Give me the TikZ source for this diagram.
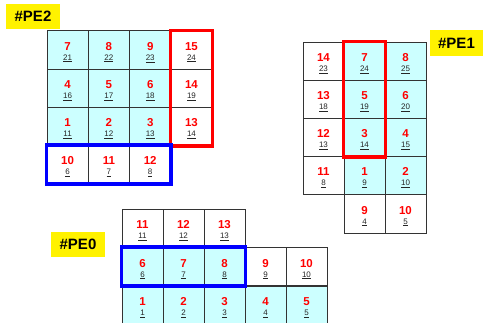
\documentclass[tikz,border=0pt]{standalone}
\usepackage{fontspec}
\setmainfont{Liberation Sans}
\definecolor{cellcyan}{HTML}{CCFFFF}
\definecolor{gridline}{HTML}{333333}
\definecolor{numred}{HTML}{FF0000}
\tikzset{
  cellbox/.style={draw=gridline, line width=0.8pt, rectangle, minimum width=41.2pt, minimum height=38.2pt, inner sep=0pt},
  cy/.style={cellbox, fill=cellcyan},
  wh/.style={cellbox, fill=white},
  pelabel/.style={fill=yellow, rectangle, inner sep=0pt, minimum width=54pt, minimum height=25pt, font=\fontsize{15}{15}\selectfont\bfseries},
  redframe/.style={draw=red, line width=3.6pt},
  blueframe/.style={draw=blue, line width=3.6pt},
}
\newcommand\mkcell[6]{\node[#4] (#1) at (#2,#3) {\raisebox{-10.3pt}[0pt][0pt]{\vbox{\baselineskip=10pt\lineskiplimit=-20pt\halign{\hfil##\hfil\cr{\fontsize{11.5}{11}\selectfont\bfseries\color{numred}#5}\cr{\fontsize{8}{8}\selectfont\color{black!85}\underline{#6}}\cr}}}};}
\begin{document}
\begin{tikzpicture}[x=1pt,y=-1pt]
\useasboundingbox (0,0) rectangle (483,323);
% ---------- PE2 ----------
\node[pelabel] (lab2) at (33,16.5) {\#PE2};
\mkcell{a1}{67.6}{50}{cy}{7}{21}
\mkcell{a2}{108.9}{50}{cy}{8}{22}
\mkcell{a3}{150.2}{50}{cy}{9}{23}
\mkcell{a4}{191.5}{50}{wh}{15}{24}
\mkcell{a5}{67.6}{88.2}{cy}{4}{16}
\mkcell{a6}{108.9}{88.2}{cy}{5}{17}
\mkcell{a7}{150.2}{88.2}{cy}{6}{18}
\mkcell{a8}{191.5}{88.2}{wh}{14}{19}
\mkcell{a9}{67.6}{126.4}{cy}{1}{11}
\mkcell{a10}{108.9}{126.4}{cy}{2}{12}
\mkcell{a11}{150.2}{126.4}{cy}{3}{13}
\mkcell{a12}{191.5}{126.4}{wh}{13}{14}
\mkcell{a13}{67.6}{164.6}{wh}{10}{6}
\mkcell{a14}{108.9}{164.6}{wh}{11}{7}
\mkcell{a15}{150.2}{164.6}{wh}{12}{8}
\draw[redframe] (a4.north west) rectangle (a12.south east);
\draw[blueframe] (a13.north west) rectangle (a15.south east);
% ---------- PE1 ----------
\node[pelabel, minimum width=53pt, minimum height=26pt] (lab1) at (456.5,43) {\#PE1};
\mkcell{b1}{323.5}{61.1}{wh}{14}{23}
\mkcell{b2}{364.5}{61.1}{cy}{7}{24}
\mkcell{b3}{405.5}{61.1}{cy}{8}{25}
\mkcell{b4}{323.5}{99.3}{wh}{13}{18}
\mkcell{b5}{364.5}{99.3}{cy}{5}{19}
\mkcell{b6}{405.5}{99.3}{cy}{6}{20}
\mkcell{b7}{323.5}{137.5}{wh}{12}{13}
\mkcell{b8}{364.5}{137.5}{cy}{3}{14}
\mkcell{b9}{405.5}{137.5}{cy}{4}{15}
\mkcell{b10}{323.5}{175.7}{wh}{11}{8}
\mkcell{b11}{364.5}{175.7}{cy}{1}{9}
\mkcell{b12}{405.5}{175.7}{cy}{2}{10}
\mkcell{b13}{364.5}{213.9}{wh}{9}{4}
\mkcell{b14}{405.5}{213.9}{wh}{10}{5}
\draw[redframe] (b2.north west) rectangle (b8.south east);
% ---------- PE0 ----------
\node[pelabel] (lab0) at (78,244.5) {\#PE0};
\mkcell{c1}{142.5}{228.25}{wh}{11}{11}
\mkcell{c2}{183.5}{228.25}{wh}{12}{12}
\mkcell{c3}{224.5}{228.25}{wh}{13}{13}
\mkcell{c4}{142.5}{266.75}{cy}{6}{6}
\mkcell{c5}{183.5}{266.75}{cy}{7}{7}
\mkcell{c6}{224.5}{266.75}{cy}{8}{8}
\mkcell{c7}{265.5}{266.75}{wh}{9}{9}
\mkcell{c8}{306.5}{266.75}{wh}{10}{10}
\mkcell{c9}{142.5}{305.25}{cy}{1}{1}
\mkcell{c10}{183.5}{305.25}{cy}{2}{2}
\mkcell{c11}{224.5}{305.25}{cy}{3}{3}
\mkcell{c12}{265.5}{305.25}{cy}{4}{4}
\mkcell{c13}{306.5}{305.25}{cy}{5}{5}
\draw[blueframe] (c4.north west) rectangle (c6.south east);
\end{tikzpicture}
\end{document}
